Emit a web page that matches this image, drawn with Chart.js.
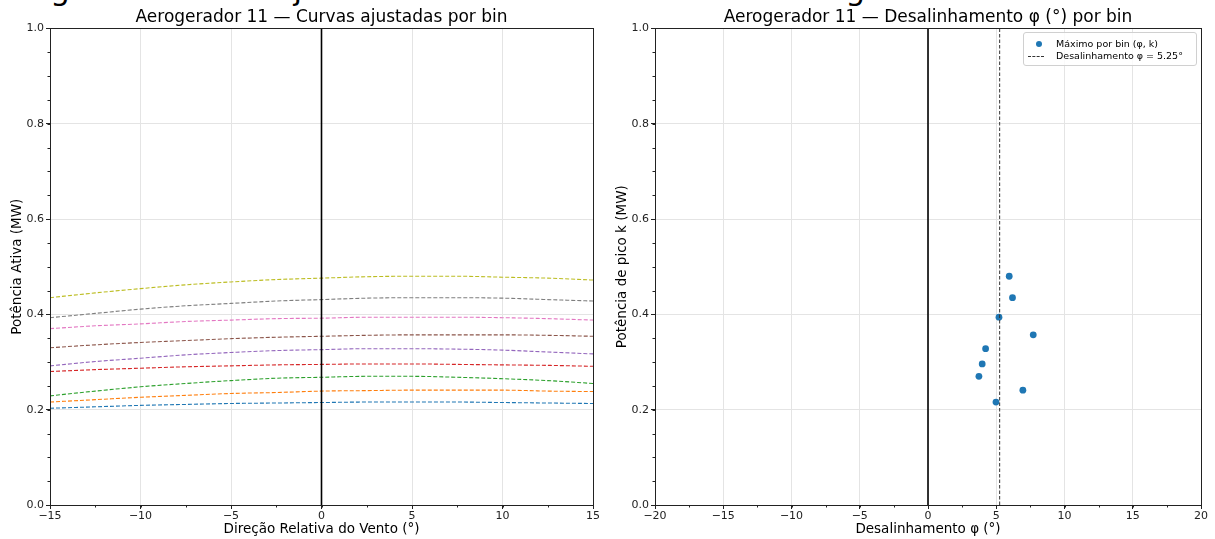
<!DOCTYPE html>
<html lang="pt-BR">
<head>
<meta charset="UTF-8">
<title>Aerogerador 11 — Curvas e desalinhamento</title>
<style>
  html, body { margin: 0; padding: 0; background: #fff; }
  body { width: 1215px; height: 539px; position: relative; overflow: hidden; font-family: 'DejaVu Sans', sans-serif; }
  #suptitle { position: absolute; top: -26px; left: 600px; transform: translateX(-50%); font-size: 31px; line-height: 31px; white-space: nowrap; color: #000; }
  #cvLeft { position: absolute; left: 0; top: 0; }
  #cvRight { position: absolute; left: 607px; top: 0; }
  #legendBox { position: absolute; left: 1023px; top: 32px; width: 172px; height: 32px; border: 1px solid #d0d0d0; border-radius: 3px; background: rgba(255,255,255,0.8); font-size: 9.5px; color: #000; }
  #legendBox .row { position: absolute; left: 0; height: 12px; line-height: 12px; }
  #legendBox .mark { position: absolute; left: 0; width: 30px; height: 12px; }
  #legendBox .txt { position: absolute; left: 32px; white-space: nowrap; }
  .dot { position: absolute; left: 12px; top: 3px; width: 6px; height: 6px; border-radius: 50%; background: #1f77b4; }
  .dash { position: absolute; left: 4px; top: 6px; width: 16px; border-top: 1px dashed #333; }
</style>
<script src="https://cdn.jsdelivr.net/npm/chart.js"></script>
</head>
<body>
<div id="suptitle">Aerogerador 11 — Ajuste das curvas e estimativa do ângulo de desalinhamento</div>
<canvas id="cvLeft" width="607" height="539"></canvas>
<canvas id="cvRight" width="608" height="539"></canvas>
<div id="legendBox"></div>

<script>
// direção relativa do vento (°) onde as curvas foram lidas
const relDir = [-15, -12.5, -10, -7.5, -5, -2.5, 0, 2.5, 5, 7.5, 10, 12.5, 15];

// potência ajustada (MW) por bin de velocidade
const bin1 = [0.203, 0.206, 0.209, 0.211, 0.213, 0.214, 0.215, 0.216, 0.216, 0.216, 0.215, 0.214, 0.213];
const bin2 = [0.216, 0.221, 0.226, 0.230, 0.234, 0.236, 0.239, 0.240, 0.241, 0.241, 0.241, 0.239, 0.238];
const bin3 = [0.229, 0.239, 0.248, 0.255, 0.261, 0.266, 0.268, 0.270, 0.270, 0.268, 0.265, 0.261, 0.255];
const bin4 = [0.280, 0.284, 0.287, 0.290, 0.292, 0.294, 0.295, 0.296, 0.296, 0.295, 0.294, 0.293, 0.291];
const bin5 = [0.292, 0.301, 0.308, 0.315, 0.320, 0.324, 0.326, 0.328, 0.328, 0.327, 0.325, 0.321, 0.317];
const bin6 = [0.330, 0.336, 0.341, 0.345, 0.349, 0.352, 0.354, 0.356, 0.357, 0.357, 0.357, 0.356, 0.354];
const bin7 = [0.370, 0.376, 0.380, 0.385, 0.388, 0.391, 0.392, 0.394, 0.394, 0.394, 0.393, 0.391, 0.388];
const bin8 = [0.393, 0.402, 0.411, 0.418, 0.423, 0.428, 0.431, 0.434, 0.435, 0.435, 0.434, 0.431, 0.428];
const bin9 = [0.435, 0.445, 0.454, 0.462, 0.468, 0.473, 0.476, 0.479, 0.480, 0.480, 0.478, 0.476, 0.472];
const binColors = ['#1f77b4', '#ff7f0e', '#2ca02c', '#d62728', '#9467bd', '#8c564b', '#e377c2', '#7f7f7f', '#bcbd22'];

// máximo de cada curva: desalinhamento φ (°) e pico k (MW)
const peakPhi = [4.98, 6.95, 3.73, 3.97, 4.22, 7.71, 5.20, 6.19, 5.95];
const peakK = [0.216, 0.241, 0.270, 0.296, 0.328, 0.357, 0.394, 0.435, 0.480];
const phiEstimate = 5.25;

// ticks
const dirTicks = [-15, -10, -5, 0, 5, 10, 15];
const phiTicks = [-20, -15, -10, -5, 0, 5, 10, 15, 20];
const powerTicks = [0, 0.2, 0.4, 0.6, 0.8, 1.0];

Chart.defaults.font.family = "'DejaVu Sans', sans-serif";
Chart.defaults.color = '#222';

const minus = s => String(s).replace('-', '\u2212');

// molduras (4 lados) e ticks menores estilo matplotlib
const axesFrame = {
  id: 'axesFrame',
  afterDatasetsDraw(chart, args, opts) {
    const { ctx, chartArea: a, scales: { x, y } } = chart;
    ctx.save();
    ctx.strokeStyle = '#222';
    ctx.lineWidth = 1;
    ctx.beginPath();
    for (let v = x.min; v <= x.max + 1e-9; v += opts.xMinor) {
      const px = Math.round(x.getPixelForValue(v)) + 0.5;
      ctx.moveTo(px, a.bottom); ctx.lineTo(px, a.bottom + 2.5);
    }
    for (let v = y.min; v <= y.max + 1e-9; v += opts.yMinor) {
      const py = Math.round(y.getPixelForValue(v)) + 0.5;
      ctx.moveTo(a.left, py); ctx.lineTo(a.left - 2.5, py);
    }
    ctx.stroke();
    ctx.strokeRect(Math.round(a.left) + 0.5, Math.round(a.top) + 0.5,
                   Math.round(a.right - a.left), Math.round(a.bottom - a.top));
    ctx.restore();
  }
};

function vline(x, color, width, dash) {
  return {
    type: 'line',
    data: [{ x: x, y: 0 }, { x: x, y: 1 }],
    borderColor: color, borderWidth: width, borderDash: dash || [],
    pointRadius: 0, fill: false, order: -1
  };
}

function axesOptions(cfg) {
  return {
    responsive: false,
    animation: false,
    layout: { padding: { top: 7, right: 14, bottom: 0, left: 0 } },
    plugins: {
      legend: { display: false },
      tooltip: { enabled: false },
      title: { display: true, fullSize: false, text: cfg.title, color: '#000',
               font: { size: 17, weight: 'normal' }, padding: { top: 0, bottom: 1 } },
      axesFrame: { xMinor: cfg.xMinor, yMinor: 0.05 }
    },
    scales: {
      x: {
        type: 'linear', min: cfg.xTicks[0], max: cfg.xTicks[cfg.xTicks.length - 1],
        afterBuildTicks: s => { s.ticks = cfg.xTicks.map(v => ({ value: v })); },
        afterFit: s => { s.height = 34; },
        ticks: { font: { size: 11 }, padding: 1, maxRotation: 0, callback: v => minus(v) },
        grid: { color: '#e4e4e4', lineWidth: 1, tickLength: 4, tickColor: '#222' },
        border: { display: false },
        title: { display: true, text: cfg.xTitle, color: '#000', font: { size: 13.5 }, padding: { top: 0, bottom: 1 } }
      },
      y: {
        type: 'linear', min: 0, max: 1,
        afterBuildTicks: s => { s.ticks = powerTicks.map(v => ({ value: v })); },
        afterFit: s => { s.width = cfg.yWidth; },
        ticks: { font: { size: 11 }, padding: 2, callback: v => v.toFixed(1) },
        grid: { color: '#e4e4e4', lineWidth: 1, tickLength: 4, tickColor: '#222' },
        border: { display: false },
        title: { display: true, text: cfg.yTitle, color: '#000', font: { size: 13.5 }, padding: { top: cfg.yTitlePad, bottom: 0 } }
      }
    }
  };
}

// painel esquerdo: curvas ajustadas
const bins = [bin1, bin2, bin3, bin4, bin5, bin6, bin7, bin8, bin9];
const curveSets = bins.map((vals, i) => ({
  type: 'line',
  label: 'bin ' + (i + 1),
  data: relDir.map((d, j) => ({ x: d, y: vals[j] })),
  borderColor: binColors[i],
  borderWidth: 1.1,
  borderDash: [4, 2],
  pointRadius: 0,
  cubicInterpolationMode: 'monotone',
  fill: false
}));
curveSets.push(vline(0, '#000', 1.6));

new Chart(document.getElementById('cvLeft'), {
  type: 'line',
  data: { datasets: curveSets },
  options: axesOptions({
    title: 'Aerogerador 11 — Curvas ajustadas por bin',
    xTitle: 'Direção Relativa do Vento (°)',
    yTitle: 'Potência Ativa (MW)',
    xTicks: dirTicks, xMinor: 2.5, yWidth: 50, yTitlePad: 9
  }),
  plugins: [axesFrame]
});

// painel direito: máximos por bin e desalinhamento estimado
const peakLabel = 'Máximo por bin (φ, k)';
const phiLabel = 'Desalinhamento φ = ' + phiEstimate.toFixed(2) + '°';

new Chart(document.getElementById('cvRight'), {
  type: 'scatter',
  data: {
    datasets: [
      { type: 'scatter', label: peakLabel,
        data: peakPhi.map((p, i) => ({ x: p, y: peakK[i] })),
        backgroundColor: '#1f77b4', borderColor: '#1f77b4', pointRadius: 3.4, borderWidth: 0 },
      Object.assign(vline(phiEstimate, '#333', 1, [3.5, 2]), { label: phiLabel }),
      vline(0, '#000', 1.6)
    ]
  },
  options: axesOptions({
    title: 'Aerogerador 11 — Desalinhamento φ (°) por bin',
    xTitle: 'Desalinhamento φ (°)',
    yTitle: 'Potência de pico k (MW)',
    xTicks: phiTicks, xMinor: 2.5, yWidth: 48, yTitlePad: 7
  }),
  plugins: [axesFrame]
});

// legenda do painel direito
document.getElementById('legendBox').innerHTML =
  '<div class="row" style="top:5px"><span class="mark"><span class="dot"></span></span><span class="txt">' + peakLabel + '</span></div>' +
  '<div class="row" style="top:17px"><span class="mark"><span class="dash"></span></span><span class="txt">' + phiLabel + '</span></div>';
</script>
</body>
</html>
